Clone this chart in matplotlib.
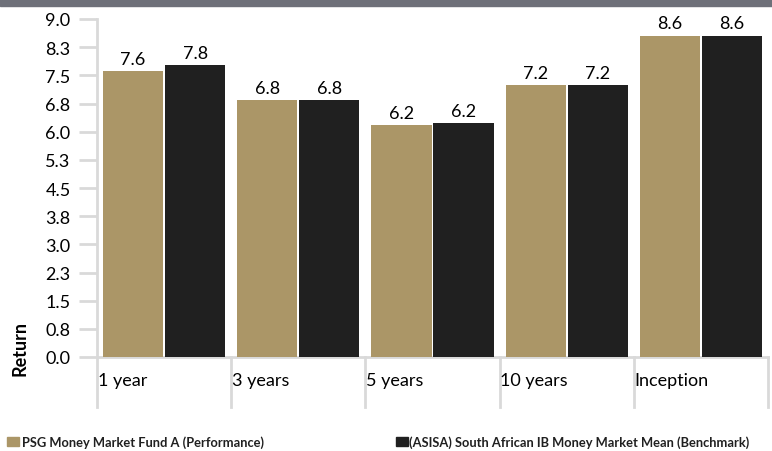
import matplotlib.pyplot as plt
import numpy as np

plt.rcParams['font.family'] = ['Lato', 'DejaVu Sans']

categories = ['1 year', '3 years', '5 years', '10 years', 'Inception']
fund = [7.61, 6.84, 6.17, 7.23, 8.56]
benchmark = [7.77, 6.84, 6.22, 7.23, 8.56]
series_names = ['PSG Money Market Fund A (Performance)',
                '(ASISA) South African IB Money Market Mean (Benchmark)']
yticks = np.arange(0, 9.01, 0.75)

tan = '#ab9667'
black = '#202020'
grid_grey = '#d9d9d9'

W, H = 772, 452
fig = plt.figure(figsize=(W / 100, H / 100), dpi=100)

# grey band across the top
fig.patches.append(plt.Rectangle((0, 1 - 7 / H), 1, 7 / H, transform=fig.transFigure,
                                 color='#6e7079', zorder=0))

ax = fig.add_axes([97 / W, (H - 358) / H, (768 - 97) / W, (358 - 20) / H])
x = np.arange(len(categories))
w = 60 / 134
off = 0.231
ax.bar(x - off, fund, w, color=tan, zorder=3)
ax.bar(x + off, benchmark, w, color=black, zorder=3)

for xi, v in zip(x, fund):
    ax.text(xi - off, v + 0.12, f'{v:.1f}', ha='center', va='bottom', fontsize=13)
for xi, v in zip(x, benchmark):
    ax.text(xi + off, v + 0.12, f'{v:.1f}', ha='center', va='bottom', fontsize=13)

ax.set_xlim(-0.5, len(categories) - 0.5)
ax.set_ylim(0, 9)
ax.set_yticks(yticks)
# round half up like the original (8.25 -> 8.3)
ax.set_yticklabels([f'{t + 1e-9:.1f}' for t in yticks], fontsize=13)
ax.tick_params(axis='y', length=13, width=2, color=grid_grey, pad=6)
ax.set_xticks([])

for s in ['top', 'right']:
    ax.spines[s].set_visible(False)
ax.spines['left'].set_color(grid_grey)
ax.spines['left'].set_linewidth(2)
ax.spines['bottom'].set_color(grid_grey)
ax.spines['bottom'].set_linewidth(2)
ax.spines['bottom'].set_zorder(1)

# category separators below the axis and labels
ydrop = -50 / 37.55
for i in range(len(categories) + 1):
    ax.plot([i - 0.5, i - 0.5], [0, ydrop], color=grid_grey, lw=2, clip_on=False)
for i, c in enumerate(categories):
    ax.text(i - 0.495, -0.62, c, ha='left', va='center', fontsize=13, clip_on=False)

fig.text(20 / W, 1 - 349 / H, 'Return', rotation=90, ha='center', va='center',
         fontsize=13, fontweight='bold')

# legend
fig.patches.append(plt.Rectangle((7 / W, 1 - 447 / H), 12 / W, 9 / H,
                                 transform=fig.transFigure, color=tan))
fig.text(22 / W, 1 - 443 / H, series_names[0], ha='left', va='center',
         fontsize=9.3, fontweight='bold', color='#202020')
fig.patches.append(plt.Rectangle((396 / W, 1 - 447 / H), 12 / W, 9 / H,
                                 transform=fig.transFigure, color=black))
fig.text(409 / W, 1 - 443 / H, series_names[1], ha='left', va='center',
         fontsize=9.3, fontweight='bold', color='#202020')

fig.savefig('out.png', dpi=100)
